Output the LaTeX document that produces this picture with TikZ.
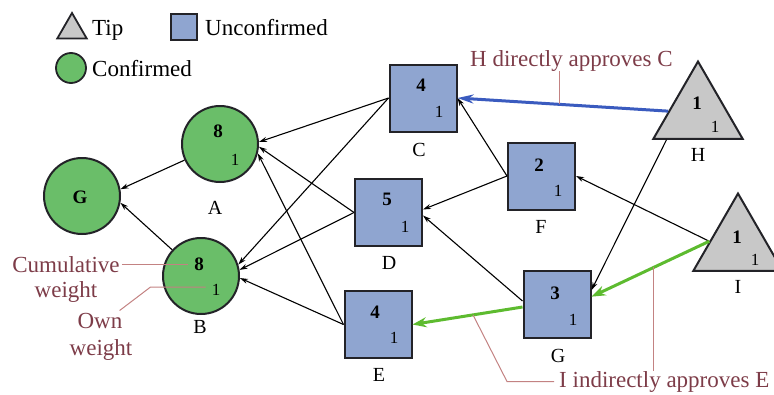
\documentclass[tikz,border=0pt]{standalone}
\usepackage{fontspec}
\setmainfont{Liberation Serif}
\usetikzlibrary{shapes.geometric,arrows.meta,calc}

\definecolor{cfill}{RGB}{106,190,105}
\definecolor{ufill}{RGB}{143,165,208}
\definecolor{tfill}{RGB}{200,200,200}
\definecolor{bluearr}{RGB}{58,91,191}
\definecolor{greenarr}{RGB}{93,187,47}
\definecolor{annotext}{RGB}{125,60,72}
\definecolor{annocol}{RGB}{195,130,130}
\definecolor{bordercol}{RGB}{35,35,40}

\begin{document}
\begin{tikzpicture}[x=1pt,y=-1pt,
  confirmed/.style={circle,draw=bordercol,line width=2pt,fill=cfill,minimum size=76pt,inner sep=0pt},
  unconf/.style={rectangle,draw=bordercol,line width=2pt,fill=ufill,minimum size=67pt,inner sep=0pt},
  tipnode/.style={regular polygon,regular polygon sides=3,draw=bordercol,line width=2pt,fill=tfill,minimum size=103pt,inner sep=0pt},
  cw/.style={font=\fontsize{19}{19}\selectfont\bfseries,inner sep=0pt},
  ow/.style={font=\fontsize{17}{17}\selectfont,inner sep=0pt},
  nlabel/.style={font=\fontsize{20}{20}\selectfont,inner sep=0pt},
  legtext/.style={font=\fontsize{23}{23}\selectfont,inner sep=0pt,anchor=base west},
  anno/.style={font=\fontsize{23}{23}\selectfont,text=annotext,inner sep=0pt},
  annoline/.style={draw=annocol,line width=1pt},
  edge/.style={draw=black,line width=1.1pt,-{Stealth[length=8pt,width=5pt]}},
  blueedge/.style={draw=bluearr,line width=3pt,-{Stealth[length=16pt,width=9pt]}},
  greenedge/.style={draw=greenarr,line width=3pt,-{Stealth[length=14pt,width=10pt]}},
]
\useasboundingbox (0,0) rectangle (774,394);

% legend
\node[regular polygon,regular polygon sides=3,draw=bordercol,line width=1.8pt,fill=tfill,minimum size=34pt,inner sep=0pt] (legT) at (72,30) {};
\node[legtext] (legTt) at (92,35) {Tip};
\node[rectangle,draw=bordercol,line width=1.8pt,fill=ufill,minimum size=26pt,inner sep=0pt] (legU) at (184,27) {};
\node[legtext] (legUt) at (205,35) {Unconfirmed};
\node[circle,draw=bordercol,line width=1.8pt,fill=cfill,minimum size=30pt,inner sep=0pt] (legC) at (71,68) {};
\node[legtext] (legCt) at (92,76) {Confirmed};

% confirmed
\node[confirmed] (G) at (82,196) {};
\node[cw] (Gt) at (80,197) {G};

\node[confirmed] (A) at (220,144) {};
\node[cw] (A8) at (218,131) {8};
\node[ow] (A1) at (235,160) {1};
\node[nlabel] (Al) at (215,208) {A};

\node[confirmed] (B) at (201,276) {};
\node[cw] (B8) at (199,264) {8};
\node[ow] (B1) at (216,290) {1};
\node[nlabel] (Bl) at (200,327) {B};

% unconfirmed
\node[unconf] (C) at (423,98) {};
\node[cw] (C4) at (421,85) {4};
\node[ow] (C1) at (439,112) {1};
\node[nlabel] (Cl) at (419,150) {C};

\node[unconf] (D) at (388.5,212.5) {};
\node[cw] (D5) at (387,199) {5};
\node[ow] (D1) at (405,227) {1};
\node[nlabel] (Dl) at (389,263) {D};

\node[unconf] (E) at (378,324.5) {};
\node[cw] (E4) at (375,312) {4};
\node[ow] (E1) at (394,338) {1};
\node[nlabel] (El) at (379,375) {E};

\node[unconf] (F) at (541.5,176) {};
\node[cw] (F2) at (539,165) {2};
\node[ow] (F1) at (558,191) {1};
\node[nlabel] (Fl) at (541,227) {F};

\node[unconf] (Gs) at (557,304) {};
\node[cw] (Gs3) at (555,293) {3};
\node[ow] (Gs1) at (573,320) {1};
\node[nlabel] (Gsl) at (558,356) {G};

% tips
\node[tipnode] (H) at (698,113) {};
\node[cw] (H1) at (697,103) {1};
\node[ow] (Hw) at (715,127) {1};
\node[nlabel] (Hl) at (698,155) {H};

\node[tipnode] (I) at (738,245) {};
\node[cw] (I1) at (737,237) {1};
\node[ow] (Iw) at (755,260) {1};
\node[nlabel] (Il) at (738,287) {I};

% helper coordinates on the tips
\coordinate (Hbase) at ($(H.corner 2)!0.16!(H.corner 3)$);
\coordinate (Istart) at ($(I.corner 1)!0.62!(I.corner 2)$);

% edges
\draw[edge] (A) -- (G.10);
\draw[edge] (B) -- (G.-10);
\draw[edge] (C.west) -- (A.3);
\draw[edge] (C.west) -- (B.17);
\draw[edge] (D.west) -- (A.-4);
\draw[edge] (D.west) -- (B.9);
\draw[edge] (E.west) -- (A.-14);
\draw[edge] (E.west) -- (B.-3);
\draw[edge] (F.west) -- (C.east);
\draw[edge] (F.west) -- (D.5);
\draw[edge] (Gs.175) -- (D.-5);
\draw[greenedge] (Gs.185) -- (E.east);
\draw[blueedge] (H) -- (C.east);
\draw[edge] (Hbase) -- (Gs.22);
\draw[edge] (Istart) -- (F.east);
\draw[greenedge] (Istart) -- (Gs.12);

% annotations
\node[anno,anchor=base west] (lblH) at (470,66) {H directly approves C};
\coordinate (hcPt) at ($(H)!0.575!(C.east)$);
\draw[annoline] (hcPt) -- (hcPt |- lblH.south);

\node[anno,anchor=base west] (lblI) at (559,387) {I indirectly approves E};
\coordinate (geP) at ($(Gs.185)!0.45!(E.east)$);
\coordinate (igP) at ($(Istart)!0.47!(Gs.12)$);
\coordinate (iK) at ($(lblI.west)+(-52,0)$);
\draw[annoline] (igP) -- (igP |- lblI.north);
\draw[annoline] ($(lblI.west)+(-5,0)$) -- (iK) -- (geP);

\node[anno,anchor=base] (cum1) at (66,272) {Cumulative};
\node[anno,anchor=base] (cum2) at (66,297) {weight};
\draw[annoline,shorten >=6pt] ($(cum1.east)+(2,0)$) -- (cum1.east -| B8.west);

\node[anno,anchor=base] (own1) at (100,328) {Own};
\node[anno,anchor=base] (own2) at (101,355) {weight};
\coordinate (ownK) at ($(B1.west)+(-61,-3)$);
\draw[annoline] ($(own1.north east)+(-3,-2)$) -- (ownK) -- ($(B1.west)+(-6,-3)$);
\end{tikzpicture}
\end{document}
